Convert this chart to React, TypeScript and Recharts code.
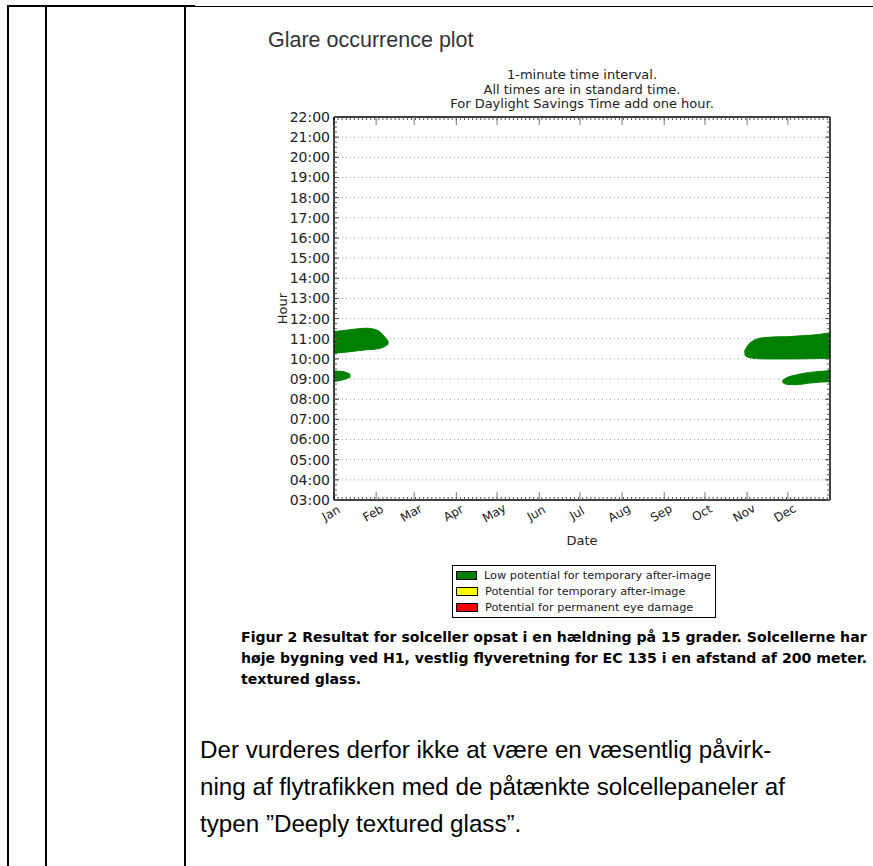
import React from 'react';
import { ComposedChart, Area, XAxis, YAxis, CartesianGrid, Legend, Label } from 'recharts';

// axis labels
const monthNames = ['Jan', 'Feb', 'Mar', 'Apr', 'May', 'Jun', 'Jul', 'Aug', 'Sep', 'Oct', 'Nov', 'Dec'];
const monthStartDays = [0, 31, 59, 90, 120, 151, 181, 212, 243, 273, 304, 334];
const hourTicks = [3, 4, 5, 6, 7, 8, 9, 10, 11, 12, 13, 14, 15, 16, 17, 18, 19, 20, 21, 22];

// legend entries, in the order the reference shows them
const legendOrder = [
  'Low potential for temporary after-image',
  'Potential for temporary after-image',
  'Potential for permanent eye damage',
];

const days = [0, 6, 12, 18, 24, 32, 37, 40, 302, 304, 306, 310, 316, 330, 333, 340, 350, 358, 365];

// glare windows (decimal hour, low / high), null = no glare that day
const janLateLow = [10.28, 10.32, 10.36, 10.41, 10.45, 10.5, 10.6, 10.74, null, null, null, null, null, null, null, null, null, null, null];
const janLateHigh = [11.35, 11.4, 11.45, 11.5, 11.52, 11.42, 11.12, 10.86, null, null, null, null, null, null, null, null, null, null, null];
const janEarlyLow = [8.88, 8.95, 9.1, null, null, null, null, null, null, null, null, null, null, null, null, null, null, null, null];
const janEarlyHigh = [9.4, 9.38, 9.24, null, null, null, null, null, null, null, null, null, null, null, null, null, null, null, null];
const decLateLow = [null, null, null, null, null, null, null, null, 10.22, 10.1, 10.06, 10.02, 10.0, 10.0, 10.0, 10.0, 10.01, 10.02, 10.03];
const decLateHigh = [null, null, null, null, null, null, null, null, 10.36, 10.62, 10.78, 10.95, 11.05, 11.1, 11.1, 11.13, 11.17, 11.22, 11.3];
const decEarlyLow = [null, null, null, null, null, null, null, null, null, null, null, null, null, 8.84, 8.74, 8.72, 8.8, 8.85, 8.87];
const decEarlyHigh = [null, null, null, null, null, null, null, null, null, null, null, null, null, 8.92, 9.06, 9.2, 9.33, 9.38, 9.42];

const pair = (lo: number | null, hi: number | null) => (lo == null || hi == null ? null : [lo, hi]);

const data = days.map((day, i) => ({
  day,
  janLate: pair(janLateLow[i], janLateHigh[i]),
  janEarly: pair(janEarlyLow[i], janEarlyHigh[i]),
  decLate: pair(decLateLow[i], decLateHigh[i]),
  decEarly: pair(decEarlyLow[i], decEarlyHigh[i]),
}));

const minorDays = Array.from({ length: 122 }, (_, i) => i * 3);
const minorHours = Array.from({ length: 77 }, (_, i) => 3 + i * 0.25);

const GREEN = '#008000';
const TXT = '#222';
const MPL_FONT = '"DejaVu Sans", sans-serif';

const fmtHour = (v: number) => `${String(v).padStart(2, '0')}:00`;

const MonthTick = (props: any) => {
  const { x, y, payload } = props;
  return (
    <text
      transform={`translate(${x - 3},${y + 13}) rotate(-30)`}
      textAnchor="middle"
      dy="0.35em"
      fontSize={12}
      fontFamily={MPL_FONT}
      fill={TXT}
    >
      {monthNames[monthStartDays.indexOf(payload.value)]}
    </text>
  );
};

// keeps the tick line but draws no text
const NoText = () => <g />;

const LegendBox = (props: any) => {
  const items = (props.payload || [])
    .filter((e: any) => legendOrder.includes(e.value))
    .sort((a: any, b: any) => legendOrder.indexOf(a.value) - legendOrder.indexOf(b.value));
  return (
    <div
      style={{
        border: '1px solid #000',
        background: '#fff',
        padding: '1px 4px 2px 3px',
        fontFamily: MPL_FONT,
        fontSize: 11.3,
        color: TXT,
        textAlign: 'left',
      }}
    >
      {items.map((e: any) => (
        <div key={e.value} style={{ display: 'flex', alignItems: 'center', height: 16, whiteSpace: 'nowrap' }}>
          <span
            style={{
              display: 'inline-block',
              width: 20,
              height: 7,
              background: e.color,
              border: '1px solid #000',
              marginRight: 7,
            }}
          />
          <span>{e.value}</span>
        </div>
      ))}
    </div>
  );
};

const X_DOM = { type: 'number', dataKey: 'day', domain: [0, 365], allowDataOverflow: true, interval: 0 } as const;
const Y_DOM = { type: 'number', domain: [3, 22], allowDataOverflow: true, interval: 0 } as const;

export default function App() {
  return (
    <div
      style={{
        position: 'absolute',
        left: 0,
        top: 0,
        width: 873,
        height: 866,
        overflow: 'hidden',
        background: '#fff',
        fontFamily: '"Liberation Sans", Arial, sans-serif',
      }}
    >
      {/* table frame */}
      <div style={{ position: 'absolute', left: 7, top: 5, width: 188, height: 2, background: '#000' }} />
      <div style={{ position: 'absolute', left: 195, top: 6, width: 678, height: 1, background: '#000' }} />
      <div style={{ position: 'absolute', left: 7, top: 5, width: 2, height: 861, background: '#000' }} />
      <div style={{ position: 'absolute', left: 45, top: 5, width: 2, height: 861, background: '#000' }} />
      <div style={{ position: 'absolute', left: 184, top: 5, width: 2, height: 861, background: '#000' }} />

      <div style={{ position: 'absolute', left: 268, top: 28, fontSize: 21.5, color: '#333', whiteSpace: 'nowrap' }}>
        Glare occurrence plot
      </div>

      <div
        style={{
          position: 'absolute',
          left: 334,
          top: 68,
          width: 496,
          textAlign: 'center',
          fontFamily: MPL_FONT,
          fontSize: 13,
          lineHeight: '14.5px',
          color: TXT,
        }}
      >
        <div>1-minute time interval.</div>
        <div>All times are in standard time.</div>
        <div>For Daylight Savings Time add one hour.</div>
      </div>

      <div style={{ position: 'absolute', left: 260, top: 60 }}>
        <ComposedChart width={613} height={570} data={data} margin={{ top: 57, right: 43, bottom: 90, left: 0 }}>
          <CartesianGrid xAxisId="bottom" yAxisId="left" vertical={false} stroke="#999" strokeDasharray="1 3" />
          <XAxis
            xAxisId="bottom"
            {...X_DOM}
            ticks={monthStartDays}
            tickLine={false}
            tickSize={0}
            tickMargin={0}
            tick={<MonthTick />}
            axisLine={{ stroke: '#000', strokeWidth: 1.5 }}
            height={40}
          >
            <Label
              content={(p: any) => (
                <text
                  x={p.viewBox.x + p.viewBox.width / 2}
                  y={p.viewBox.y + 45}
                  textAnchor="middle"
                  fontSize={13}
                  fontFamily={MPL_FONT}
                  fill={TXT}
                >
                  Date
                </text>
              )}
            />
          </XAxis>
          <XAxis xAxisId="bMajor" {...X_DOM} ticks={monthStartDays} mirror height={0.01} tickSize={8} tickLine={{ stroke: '#777' }} tick={<NoText />} axisLine={false} />
          <XAxis xAxisId="bMinor" {...X_DOM} ticks={minorDays} mirror height={0.01} tickSize={3} tickLine={{ stroke: '#555' }} tick={<NoText />} axisLine={false} />
          <XAxis xAxisId="tMajor" orientation="top" {...X_DOM} ticks={monthStartDays} mirror height={0.01} tickSize={8} tickLine={{ stroke: '#777' }} tick={<NoText />} axisLine={{ stroke: '#000', strokeWidth: 1.5 }} />
          <XAxis xAxisId="tMinor" orientation="top" {...X_DOM} ticks={minorDays} mirror height={0.01} tickSize={3} tickLine={{ stroke: '#555' }} tick={<NoText />} axisLine={false} />
          <YAxis
            yAxisId="left"
            {...Y_DOM}
            ticks={hourTicks}
            tickFormatter={fmtHour}
            tickLine={false}
            tickSize={0}
            tickMargin={4}
            width={74}
            axisLine={{ stroke: '#000', strokeWidth: 1.5 }}
            tick={{ fontSize: 14, fontFamily: MPL_FONT, fill: TXT }}
          >
            <Label
              content={(p: any) => (
                <text
                  transform={`translate(${p.viewBox.x + 22},${p.viewBox.y + p.viewBox.height / 2}) rotate(-90)`}
                  textAnchor="middle"
                  dy="0.35em"
                  fontSize={13}
                  fontFamily={MPL_FONT}
                  fill={TXT}
                >
                  Hour
                </text>
              )}
            />
          </YAxis>
          <YAxis yAxisId="lMajor" {...Y_DOM} ticks={hourTicks} mirror width={0.01} tickSize={5} tickLine={{ stroke: '#555' }} tick={<NoText />} axisLine={false} />
          <YAxis yAxisId="lMinor" {...Y_DOM} ticks={minorHours} mirror width={0.01} tickSize={3} tickLine={{ stroke: '#555' }} tick={<NoText />} axisLine={false} />
          <YAxis yAxisId="rMajor" orientation="right" {...Y_DOM} ticks={hourTicks} mirror width={0.01} tickSize={5} tickLine={{ stroke: '#555' }} tick={<NoText />} axisLine={{ stroke: '#000', strokeWidth: 1.5 }} />
          <YAxis yAxisId="rMinor" orientation="right" {...Y_DOM} ticks={minorHours} mirror width={0.01} tickSize={3} tickLine={{ stroke: '#555' }} tick={<NoText />} axisLine={false} />

          <Legend
            layout="horizontal"
            verticalAlign="middle"
            align="center"
            width={264}
            wrapperStyle={{ left: 192, top: 505, width: 264 }}
            content={<LegendBox />}
          />

          <Area xAxisId="bottom" yAxisId="left" dataKey="janLate" type="monotone" stroke={GREEN} fill={GREEN} fillOpacity={1} isAnimationActive={false} name="Low potential for temporary after-image" legendType="rect" />
          <Area xAxisId="bottom" yAxisId="left" dataKey="janEarly" type="monotone" stroke={GREEN} fill={GREEN} fillOpacity={1} isAnimationActive={false} legendType="none" />
          <Area xAxisId="bottom" yAxisId="left" dataKey="decLate" type="monotone" stroke={GREEN} fill={GREEN} fillOpacity={1} isAnimationActive={false} legendType="none" />
          <Area xAxisId="bottom" yAxisId="left" dataKey="decEarly" type="monotone" stroke={GREEN} fill={GREEN} fillOpacity={1} isAnimationActive={false} legendType="none" />
          <Area xAxisId="bottom" yAxisId="left" dataKey="yellow" stroke="#ffff00" fill="#ffff00" isAnimationActive={false} name="Potential for temporary after-image" legendType="rect" />
          <Area xAxisId="bottom" yAxisId="left" dataKey="red" stroke="#ff0000" fill="#ff0000" isAnimationActive={false} name="Potential for permanent eye damage" legendType="rect" />
        </ComposedChart>
      </div>

      <div
        style={{
          position: 'absolute',
          left: 241,
          top: 627,
          fontFamily: MPL_FONT,
          fontWeight: 'bold',
          fontSize: 14.1,
          lineHeight: '21px',
          color: '#000',
          whiteSpace: 'nowrap',
        }}
      >
        <div>Figur 2 Resultat for solceller opsat i en hældning på 15 grader. Solcellerne har</div>
        <div>høje bygning ved H1, vestlig flyveretning for EC 135 i en afstand af 200 meter.</div>
        <div>textured glass.</div>
      </div>

      <div
        style={{
          position: 'absolute',
          left: 200,
          top: 731,
          fontSize: 24.2,
          lineHeight: '37px',
          color: '#000',
          whiteSpace: 'nowrap',
        }}
      >
        <div>Der vurderes derfor ikke at være en væsentlig påvirk-</div>
        <div>ning af flytrafikken med de påtænkte solcellepaneler af</div>
        <div>typen ”Deeply textured glass”.</div>
      </div>
    </div>
  );
}
